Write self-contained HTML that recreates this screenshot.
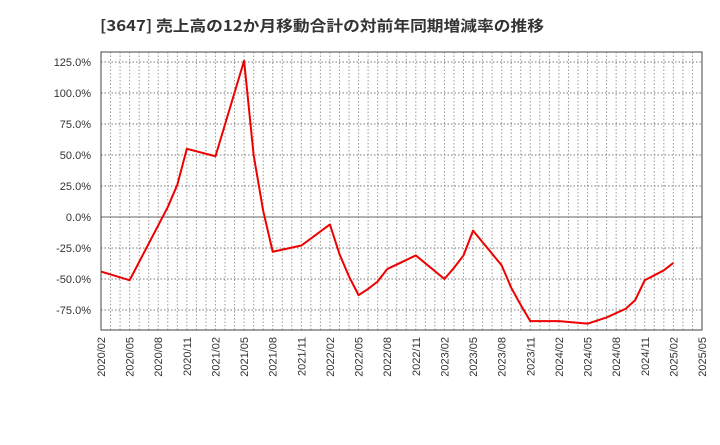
<!DOCTYPE html>
<html><head><meta charset="utf-8"><style>
body{margin:0;background:#fff;font-family:"Liberation Sans","Noto Sans CJK JP",sans-serif;}
svg text{font-family:"Liberation Sans","Noto Sans CJK JP",sans-serif;}
</style></head><body>
<svg id="chart" width="720" height="440" xmlns="http://www.w3.org/2000/svg">
<text x="100" y="31" font-size="15" font-weight="bold" fill="#333" style="font-family:'Noto Sans CJK JP','Liberation Sans',sans-serif" textLength="444" lengthAdjust="spacingAndGlyphs">[3647]  売上高の12か月移動合計の対前年同期増減率の推移</text>
<g id="grid"></g><g id="axes"></g><g id="series"></g>
</svg>
<script>
const dates=["2020/02","2020/05","2020/09","2020/10","2020/11","2021/02","2021/05","2021/06","2021/07","2021/08","2021/11","2022/02","2022/03","2022/04","2022/05","2022/06","2022/07","2022/08","2022/11","2023/02","2023/03","2023/04","2023/05","2023/08","2023/09","2023/10","2023/11","2024/02","2024/05","2024/07","2024/09","2024/10","2024/11","2025/01","2025/02"];
const values=[-44,-51,8,26,55,49,126,50,5,-28,-23,-6,-30,-48,-63,-58,-52,-42,-31,-50,-41,-31,-11,-39,-57,-71,-84,-84,-86,-81,-74,-67,-51,-43,-37];
const yTicks=[125,100,75,50,25,0,-25,-50,-75];
const xTickLabels=["2020/02","2020/05","2020/08","2020/11","2021/02","2021/05","2021/08","2021/11","2022/02","2022/05","2022/08","2022/11","2023/02","2023/05","2023/08","2023/11","2024/02","2024/05","2024/08","2024/11","2025/02","2025/05"];
const L=101,R=702,T=52,B=330;
const m=s=>{const [y,mo]=s.split('/').map(Number);return (y-2020)*12+mo-2;};
const X=s=>L+(R-L)*m(s)/63;
const Y=v=>217-v*1.24;
const NS="http://www.w3.org/2000/svg";
function mk(p,t,a){const e=document.createElementNS(NS,t);for(const k in a)e.setAttribute(k,a[k]);document.getElementById(p).appendChild(e);return e;}
for(let i=1;i<63;i++){const x=L+(R-L)*i/63;
const g=mk('grid','line',{x1:x,x2:x,y1:T,y2:B,stroke:'#999','stroke-dasharray':'1.5,2','stroke-width':1});

}
yTicks.forEach(v=>{const y=Y(v);
const g=mk('grid','line',{x1:L,x2:R,y1:y,y2:y,stroke:v===0?'#666':'#777','stroke-dasharray':v===0?'':'1.5,2','stroke-width':1});


const t=mk('axes','text',{x:91,y:y+4,'text-anchor':'end','font-size':11,fill:'#333'});
t.textContent=v.toFixed(1)+'%';

});
xTickLabels.forEach(s=>{const x=X(s);
const t=mk('axes','text',{x:0,y:0,'text-anchor':'end','font-size':11,fill:'#333',transform:`translate(${x+4},337) rotate(-90)`});
t.textContent=s;

});
const f=mk('axes','rect',{x:L,y:T,width:R-L,height:B-T,fill:'none',stroke:'#444','stroke-width':1});


const p=mk('series','polyline',{points:dates.map((d,i)=>X(d)+','+Y(values[i])).join(' '),fill:'none',stroke:'#ee0000','stroke-width':2,'stroke-linejoin':'round'});


</script>
</body></html>
